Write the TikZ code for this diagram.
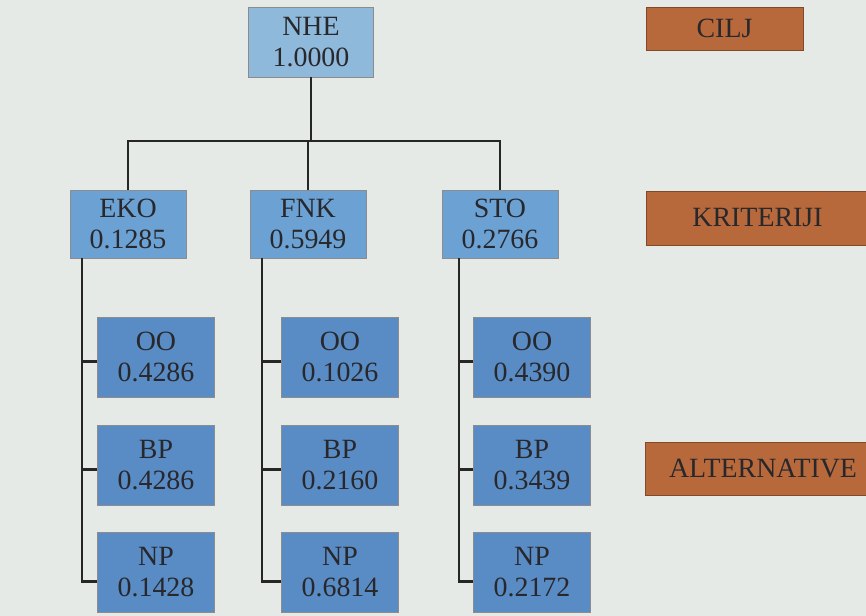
\documentclass[tikz,border=0pt]{standalone}
\usepackage{fontspec}
\setmainfont{Liberation Serif}
\usepackage{xcolor}
\usetikzlibrary{calc}

\definecolor{paper}{RGB}{229,234,230}
\definecolor{goalblue}{RGB}{143,185,219}
\definecolor{critblue}{RGB}{108,161,211}
\definecolor{altblue}{RGB}{89,139,196}
\definecolor{levelbrown}{RGB}{183,105,60}
\definecolor{ink}{RGB}{40,40,44}

\begin{document}
\begin{tikzpicture}[x=0.03cm,y=-0.03cm,
  font=\fontsize{23.8}{26.4}\selectfont,
  box/.style={draw=black!45,line width=0.5pt,text=ink,align=center,
    inner sep=0pt,minimum height=68*0.03cm},
  goal/.style={box,fill=goalblue,minimum width=125*0.03cm,minimum height=70*0.03cm},
  crit/.style={box,fill=critblue,minimum width=116*0.03cm},
  alt/.style={box,fill=altblue,minimum width=117*0.03cm,minimum height=80*0.03cm},
  level/.style={box,fill=levelbrown,draw=levelbrown!70!black},
  link/.style={draw=black!85,line width=2.1pt}]
  % page
  \fill[paper] (0,0) rectangle (866,616);
  \clip (0,0) rectangle (866,616);

  % goal and criteria
  \node[goal] (nhe) at (311,42) {NHE\\1.0000};
  \node[crit] (eko) at (128,224) {EKO\\0.1285};
  \node[crit] (fnk) at (308,224) {FNK\\0.5949};
  \node[crit] (sto) at (500,224) {STO\\0.2766};

  % alternatives under each criterion
  \node[alt] (ooE) at (156,357) {OO\\0.4286};
  \node[alt] (bpE) at (156,465) {BP\\0.4286};
  \node[alt] (npE) at (156,572) {NP\\0.1428};
  \node[alt] (ooF) at (340,357) {OO\\0.1026};
  \node[alt] (bpF) at (340,465) {BP\\0.2160};
  \node[alt] (npF) at (340,572) {NP\\0.6814};
  \node[alt] (ooS) at (532,357) {OO\\0.4390};
  \node[alt] (bpS) at (532,465) {BP\\0.3439};
  \node[alt] (npS) at (532,572) {NP\\0.2172};

  % level labels
  \node[level,minimum width=157*0.03cm,minimum height=43*0.03cm] (cilj) at (724.5,28.5) {CILJ};
  \node[level,minimum width=223*0.03cm,minimum height=54*0.03cm] (kriteriji) at (757.5,218) {KRITERIJI};
  \node[level,minimum width=236*0.03cm,minimum height=53*0.03cm] (alternative) at (763,468.5) {ALTERNATIVE};

  % goal to criteria
  \coordinate (bar) at (311,141);
  \draw[link] (nhe.south) -- (bar);
  \draw[link] (eko.north) |- (bar) -| (sto.north);
  \draw[link] (fnk.north) -- (fnk.north |- bar);

  % criteria to alternatives
  \coordinate (ekoD) at (82,258);
  \coordinate (fnkD) at (262,258);
  \coordinate (stoD) at (459,258);
  \foreach \c/\k in {ekoD/E,fnkD/F,stoD/S}{
    \coordinate (oo) at ([yshift=-4pt]oo\k.west);
    \coordinate (bp) at ([yshift=-4pt]bp\k.west);
    \draw[link] (\c) |- ([yshift=-8pt]np\k.west);
    \draw[link] (\c |- oo) -- (oo);
    \draw[link] (\c |- bp) -- (bp);
  }
\end{tikzpicture}
\end{document}
